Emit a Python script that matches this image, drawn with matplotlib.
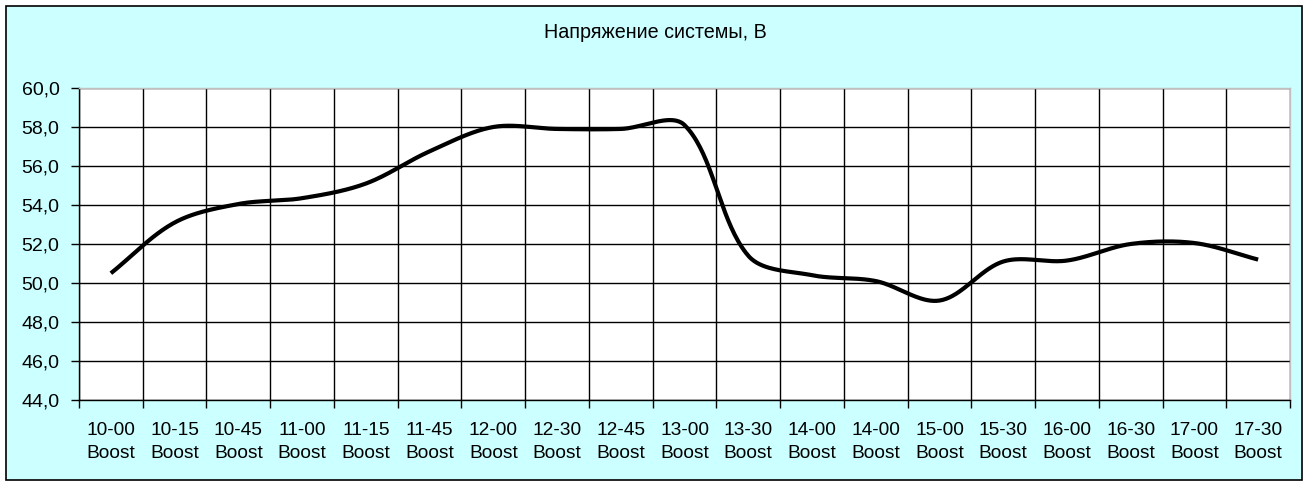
import numpy as np
import matplotlib
matplotlib.use('Agg')
import matplotlib.pyplot as plt
from matplotlib.patches import Rectangle
from matplotlib.ticker import FuncFormatter

plt.rcParams['font.family'] = ['Liberation Sans', 'DejaVu Sans']

# Time labels along x (second line is the mode)
times = ['10-00', '10-15', '10-45', '11-00', '11-15', '11-45', '12-00', '12-30', '12-45', '13-00',
         '13-30', '14-00', '14-00', '15-00', '15-30', '16-00', '16-30', '17-00', '17-30']
mode = 'Boost'

# System voltage, V
voltage = [50.5, 53.1, 54.05, 54.35, 55.1, 56.75, 58.0, 57.9, 57.9, 58.1,
           51.4, 50.4, 50.1, 49.1, 51.1, 51.15, 52.0, 52.05, 51.2]

title = 'Напряжение системы, В'
y_ticks = [44, 46, 48, 50, 52, 54, 56, 58, 60]

# pixels per x category / per volt, used so the smoothing works in screen space
X_SCALE = 63.75
Y_SCALE = 19.5


# Excel style smoothed line: cubic bezier, handles weighted by segment length
def smooth_line(xs, ys, steps=40):
    px = np.asarray(xs, dtype=float) * X_SCALE
    py = np.asarray(ys, dtype=float) * Y_SCALE
    pts = np.column_stack([px, py])
    n = len(pts)
    out = []
    t = np.linspace(0, 1, steps)[:, None]
    for i in range(n - 1):
        p0 = pts[max(i - 1, 0)]
        p1 = pts[i]
        p2 = pts[i + 1]
        p3 = pts[min(i + 2, n - 1)]
        d01 = np.linalg.norm(p1 - p0)
        d12 = np.linalg.norm(p2 - p1)
        d23 = np.linalg.norm(p3 - p2)
        if i == 0:
            b1 = p1 + (p2 - p1) / 3
        else:
            b1 = p1 + (p2 - p0) * d12 / (d01 + d12) / 3
        if i == n - 2:
            b2 = p2 - (p2 - p1) / 3
        else:
            b2 = p2 - (p3 - p1) * d12 / (d12 + d23) / 3
        seg = (1 - t) ** 3 * p1 + 3 * (1 - t) ** 2 * t * b1 + 3 * (1 - t) * t ** 2 * b2 + t ** 3 * p2
        out.append(seg)
    out = np.vstack(out)
    return out[:, 0] / X_SCALE, out[:, 1] / Y_SCALE


fig = plt.figure(figsize=(13.09, 4.87), dpi=100)
fig.patch.set_facecolor('white')

# chart area background with black border
fig.patches.append(Rectangle((6 / 1309, 1 - 480 / 487), 1296 / 1309, 474 / 487,
                             transform=fig.transFigure, facecolor='#CCFFFF',
                             edgecolor='black', linewidth=1.2, zorder=-10))

ax = fig.add_axes([79 / 1309, 1 - 400 / 487, 1211 / 1309, 312 / 487])
ax.set_facecolor('white')

n = len(times)
x = np.arange(n)
sx, sy = smooth_line(x, voltage)
ax.plot(sx, sy, color='black', linewidth=3.0, solid_capstyle='butt', zorder=3)

ax.set_xlim(-0.5, n - 0.5)
ax.set_ylim(44, 60)

ax.set_xticks(x)
ax.set_xticklabels([t + '\n' + mode for t in times], fontsize=13.8, linespacing=1.45)
ax.set_xticks(np.arange(n + 1) - 0.5, minor=True)
ax.tick_params(axis='x', which='major', length=0, pad=16)
ax.tick_params(axis='x', which='minor', length=6, width=1, direction='out')

ax.set_yticks(y_ticks)
ax.yaxis.set_major_formatter(FuncFormatter(lambda v, p: ('%.1f' % v).replace('.', ',')))
ax.tick_params(axis='y', length=6, width=1, direction='out', labelsize=14, pad=8)

ax.grid(True, axis='y', which='major', color='black', linewidth=1)
ax.grid(True, axis='x', which='minor', color='black', linewidth=1)
ax.set_axisbelow(True)

ax.spines['left'].set_color('black')
ax.spines['bottom'].set_color('black')
ax.spines['top'].set_color('#C0C0C0')
ax.spines['right'].set_color('#C0C0C0')
for s in ax.spines.values():
    s.set_linewidth(1)

fig.text(655 / 1309, 1 - 32 / 487, title, ha='center', va='center', fontsize=14.2)

fig.savefig('out.png', dpi=100)
